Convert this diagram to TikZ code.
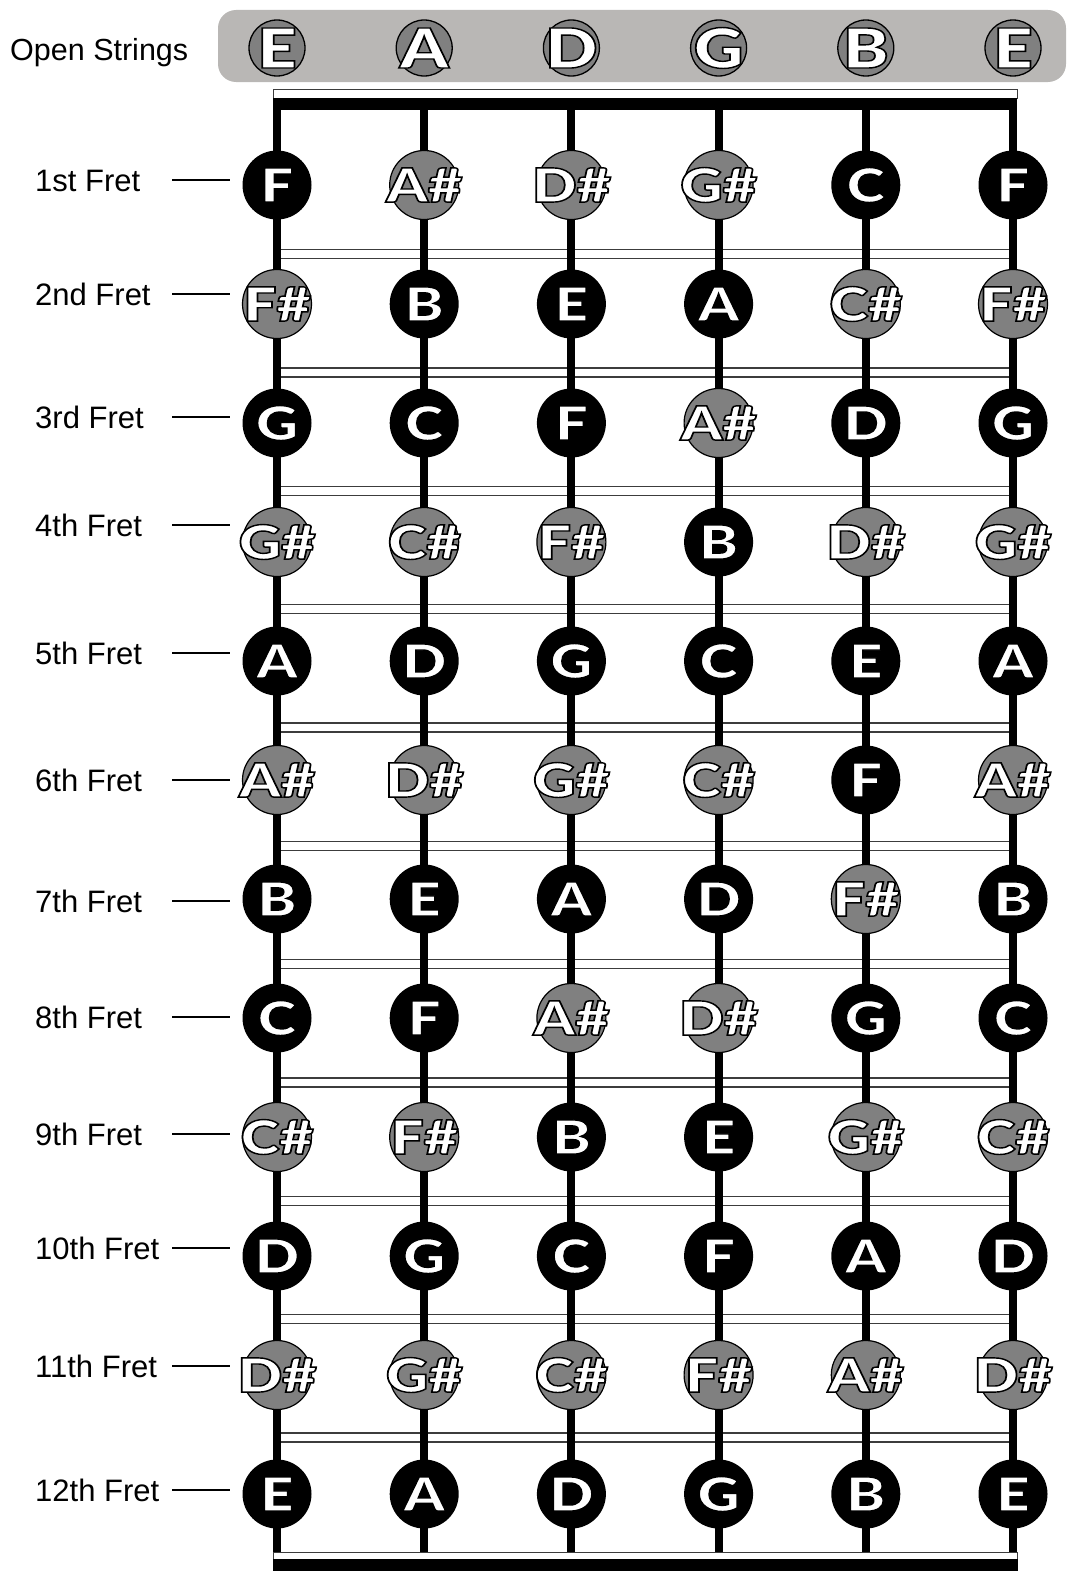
\documentclass[tikz,border=0pt]{standalone}
\usepackage{fontspec}
\setmainfont{Liberation Sans}
\newfontfamily\notefont{Lato Black}
\usepackage{graphicx}
\usepackage{xcolor}

\definecolor{bannergray}{HTML}{B9B7B5}
\definecolor{sharpgray}{HTML}{808080}
\definecolor{wiregray}{HTML}{3C3C3C}

% white letters with a thin black outline
\newcommand\strokedtext[1]{\special{pdf:code 0 G 1.4 w 2 Tr}#1\special{pdf:code 0 Tr}}
\newcommand\notetext[1]{\makebox[0pt]{\scalebox{1.25}[1]{\strokedtext{#1}}}}

\begin{document}
\begin{tikzpicture}[
  x=1pt, y=-1pt,
  note/.style={circle, minimum size=69pt, inner sep=0pt, text=white, font=\notefont\fontsize{47}{49}\selectfont},
  note0/.style={note, fill=black},
  note1/.style={note, fill=sharpgray, draw=black, line width=1.2pt},
  opennote/.style={circle, minimum size=56pt, inner sep=0pt, fill=sharpgray, draw=black, line width=1.3pt, text=white, font=\notefont\fontsize{55}{57}\selectfont},
  fretlabel/.style={anchor=base west, inner sep=0pt, font=\fontsize{31}{33}\selectfont},
  guitarstring/.style={line width=8pt},
  fretwire/.style={draw=wiregray, line width=1.4pt},
  fretpointer/.style={line width=1.4pt}
]
  \useasboundingbox (0,0) rectangle (1067,1571);

  % open strings banner
  \fill[bannergray, rounded corners=18pt] (218,10) rectangle (1066,82);
  \node[fretlabel, font=\fontsize{30.5}{32}\selectfont] (openlab) at (10,60) {Open Strings};

  % nut and end of neck
  \draw[fill=white, draw=wiregray, line width=1pt] (273,89) rectangle (1017,98);
  \fill (273,98) rectangle (1017,110);
  \draw[fill=white, draw=wiregray, line width=1pt] (273,1552) rectangle (1017,1559);
  \fill (273,1559) rectangle (1018,1571);

  % fret wires
  \foreach \k in {0,...,10} {
    \pgfmathsetmacro\wy{254+118.35*\k}
    \draw[fretwire] (281,\wy-4.5) -- (1009,\wy-4.5);
    \draw[fretwire] (281,\wy+4.5) -- (1009,\wy+4.5);
  }

  % strings
  \foreach \s in {1,...,6} {
    \pgfmathsetmacro\sx{277+147.2*(\s-1)}
    \coordinate (top-\s) at (\sx,98);
    \coordinate (bot-\s) at (\sx,1552);
    \draw[guitarstring] (top-\s) -- (bot-\s);
  }

  % open strings
  \foreach \l [count=\s] in {E,A,D,G,B,E}
    \node[opennote] (open-\s) at ({277+147.2*(\s-1)},48) {\notetext{\l}};

  % frets
  \foreach \r/\name/\ly/\row in {
    1/1st/180/{F/0,A/1,D/1,G/1,C/0,F/0},
    2/2nd/294/{F/1,B/0,E/0,A/0,C/1,F/1},
    3/3rd/417/{G/0,C/0,F/0,A/1,D/0,G/0},
    4/4th/525/{G/1,C/1,F/1,B/0,D/1,G/1},
    5/5th/653/{A/0,D/0,G/0,C/0,E/0,A/0},
    6/6th/780/{A/1,D/1,G/1,C/1,F/0,A/1},
    7/7th/901/{B/0,E/0,A/0,D/0,F/1,B/0},
    8/8th/1017/{C/0,F/0,A/1,D/1,G/0,C/0},
    9/9th/1134/{C/1,F/1,B/0,E/0,G/1,C/1},
    10/10th/1248/{D/0,G/0,C/0,F/0,A/0,D/0},
    11/11th/1366/{D/1,G/1,C/1,F/1,A/1,D/1},
    12/12th/1490/{E/0,A/0,D/0,G/0,B/0,E/0}} {
    \pgfmathsetmacro\ny{185+119*(\r-1)}
    \node[fretlabel] (lab-\r) at ({35},{\ly+11}) {\name\ Fret};
    \coordinate (ptr-\r-a) at (172,\ly);
    \coordinate (ptr-\r-b) at (230,\ly);
    \draw[fretpointer] (ptr-\r-a) -- (ptr-\r-b);
    \foreach \l/\x [count=\s] in \row
      \node[note\x] (n-\r-\s) at ({277+147.2*(\s-1)},\ny) {\notetext{\l\ifnum\x=1 \#\fi}};
  }
\end{tikzpicture}
\end{document}
